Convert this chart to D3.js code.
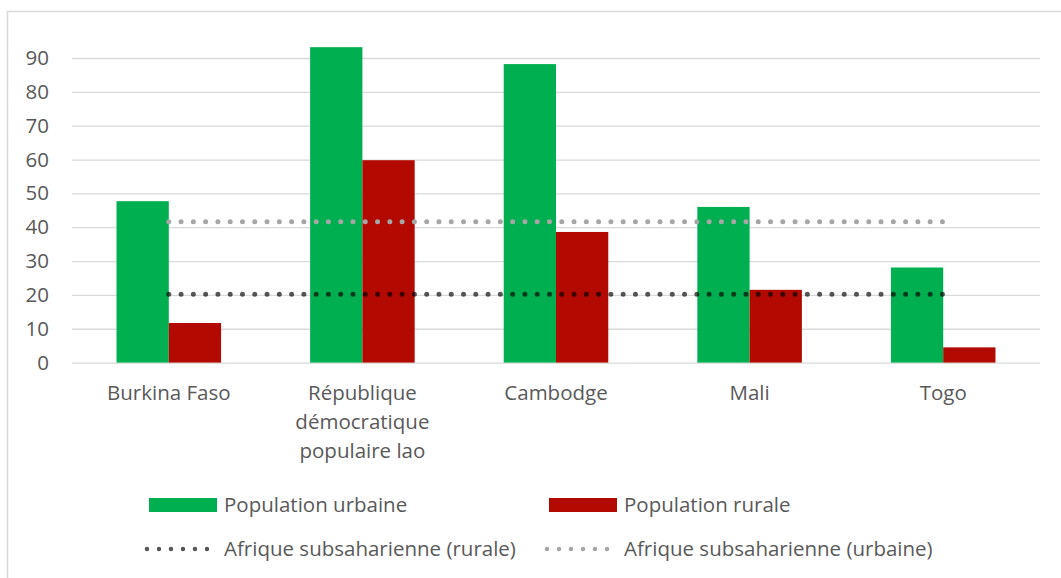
<!DOCTYPE html>
<html>
<head>
<meta charset="utf-8">
<script src="https://cdn.jsdelivr.net/npm/d3@7"></script>
<style>
  html, body { margin: 0; padding: 0; background: #fff; }
  svg { display: block; font-family: "Open Sans", Lato, sans-serif; }
</style>
</head>
<body>
<svg id="chart" width="1061" height="578"></svg>
<script>
// Part de la population ayant accès à l'électricité (%), par milieu
const categories = ["Burkina Faso", "République démocratique populaire lao", "Cambodge", "Mali", "Togo"];
const urbaine = [47.7, 93.2, 88.2, 46.0, 28.1];
const rurale = [11.7, 59.8, 38.6, 21.5, 4.5];
const moyenneRurale = [20.2, 20.2, 20.2, 20.2, 20.2];
const moyenneUrbaine = [41.6, 41.6, 41.6, 41.6, 41.6];
const yTicks = [0, 10, 20, 30, 40, 50, 60, 70, 80, 90];

const seriesNames = {
  urbaine: "Population urbaine",
  rurale: "Population rurale",
  moyRurale: "Afrique subsaharienne (rurale)",
  moyUrbaine: "Afrique subsaharienne (urbaine)"
};

const colors = {
  urbaine: "#00B050",
  rurale: "#B20A00",
  moyRurale: "rgba(0,0,0,0.66)",
  moyUrbaine: "#A6A6A6",
  grid: "#D9D9D9",
  text: "#595959",
  frame: "#D9D9D9"
};

const fontSize = 20.5;
const svg = d3.select("#chart");
const plot = { left: 72, right: 1040, top: 58, bottom: 362.6 };

// Outer frame of the chart area
svg.append("rect")
  .attr("x", 7.5).attr("y", 11.5)
  .attr("width", 1100).attr("height", 700)
  .attr("fill", "none").attr("stroke", colors.frame).attr("stroke-width", 1.5);

const x = d3.scaleBand().domain(categories).range([plot.left, plot.right]).paddingInner(0).paddingOuter(0);
const y = d3.scaleLinear().domain([0, 90]).range([plot.bottom, plot.top]);

// Bars take 54% of each category slot, split between the two series
const groupWidth = x.bandwidth() * 0.54;
const xs = d3.scaleBand().domain(["urbaine", "rurale"])
  .range([(x.bandwidth() - groupWidth) / 2, (x.bandwidth() + groupWidth) / 2]);

// Horizontal gridlines and y-axis labels
const yAxis = d3.axisLeft(y).tickValues(yTicks).tickSize(-(plot.right - plot.left)).tickPadding(23);
const gy = svg.append("g").attr("transform", `translate(${plot.left},0)`).call(yAxis);
gy.select(".domain").remove();
gy.selectAll(".tick line").attr("stroke", colors.grid).attr("stroke-width", 1.3);
gy.selectAll(".tick text")
  .attr("fill", colors.text).attr("font-size", fontSize).attr("font-family", "'Open Sans', sans-serif");

// Bars
const groups = svg.append("g").selectAll("g").data(categories).join("g")
  .attr("transform", d => `translate(${x(d)},0)`);

groups.append("rect")
  .attr("x", xs("urbaine")).attr("width", xs.bandwidth())
  .attr("y", (d, i) => y(urbaine[i]))
  .attr("height", (d, i) => y(0) - y(urbaine[i]))
  .attr("fill", colors.urbaine);

groups.append("rect")
  .attr("x", xs("rurale")).attr("width", xs.bandwidth())
  .attr("y", (d, i) => y(rurale[i]))
  .attr("height", (d, i) => y(0) - y(rurale[i]))
  .attr("fill", colors.rurale);

// Dotted reference lines through the category centres
const line = d3.line()
  .x((d, i) => x(categories[i]) + x.bandwidth() / 2)
  .y(d => y(d));

function dotted(sel, color) {
  return sel.attr("fill", "none").attr("stroke", color)
    .attr("stroke-width", 5).attr("stroke-linecap", "round")
    .attr("stroke-dasharray", "0 12.28");
}

svg.append("path").datum(moyenneUrbaine).attr("d", line).call(dotted, colors.moyUrbaine);
svg.append("path").datum(moyenneRurale).attr("d", line).call(dotted, colors.moyRurale);

// Category labels, wrapped inside the slot
const xAxis = svg.append("g");
categories.forEach(c => {
  const t = xAxis.append("text")
    .attr("x", x(c) + x.bandwidth() / 2)
    .attr("text-anchor", "middle")
    .attr("fill", colors.text)
    .attr("font-size", fontSize);
  const words = c.split(" ");
  const lines = [];
  let current = [];
  const probe = t.append("tspan");
  words.forEach(w => {
    const trial = current.concat(w).join(" ");
    probe.text(trial);
    if (probe.node().getComputedTextLength() > 160 && current.length) {
      lines.push(current.join(" "));
      current = [w];
    } else {
      current.push(w);
    }
  });
  lines.push(current.join(" "));
  probe.remove();
  lines.forEach((l, i) => {
    t.append("tspan")
      .attr("x", x(c) + x.bandwidth() / 2)
      .attr("y", 393 + i * 29)
      .attr("dy", "0.35em")
      .text(l);
  });
});

// Legend
const legend = svg.append("g").attr("font-size", fontSize).attr("fill", colors.text);
const legendItems = [
  { key: "urbaine", type: "rect", x: 149, y: 505 },
  { key: "rurale", type: "rect", x: 549, y: 505 },
  { key: "moyRurale", type: "dots", x: 149, y: 549 },
  { key: "moyUrbaine", type: "dots", x: 549, y: 549 }
];
legendItems.forEach(item => {
  const g = legend.append("g");
  if (item.type === "rect") {
    g.append("rect").attr("x", item.x).attr("y", item.y - 7)
      .attr("width", 68).attr("height", 14).attr("fill", colors[item.key]);
  } else {
    g.append("path")
      .attr("d", d3.line()([[item.x - 2, item.y], [item.x + 58.5, item.y]]))
      .attr("fill", "none").attr("stroke", colors[item.key])
      .attr("stroke-width", 4.5).attr("stroke-linecap", "round")
      .attr("stroke-dasharray", "0 12");
  }
  g.append("text").attr("x", item.x + 75).attr("y", item.y).attr("dy", "0.35em")
    .text(seriesNames[item.key]);
});
</script>
</body>
</html>
